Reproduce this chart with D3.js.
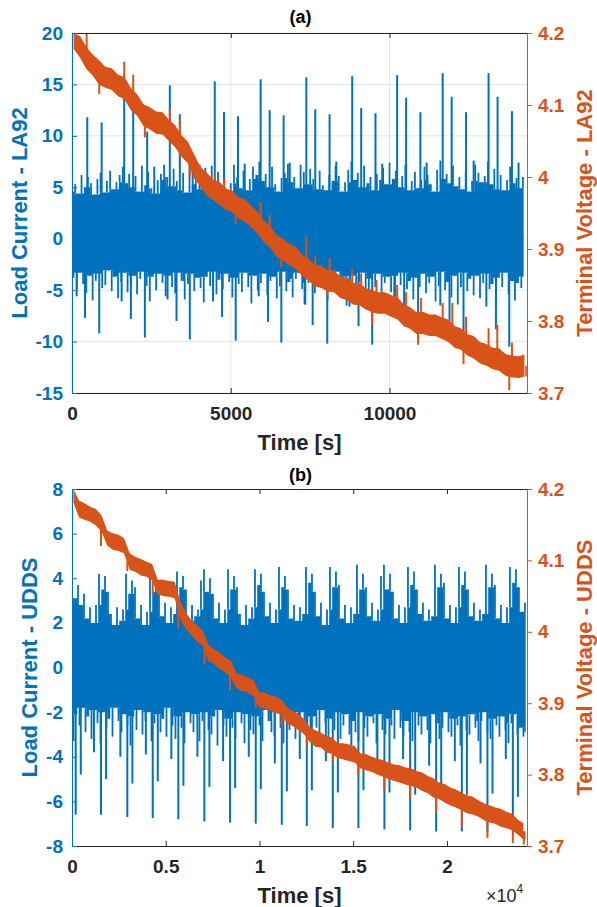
<!DOCTYPE html>
<html><head><meta charset="utf-8">
<script src="https://cdn.jsdelivr.net/npm/d3@7"></script>
<style>
body{margin:0;background:#fff}
svg text{font-family:"Liberation Sans",Arial,Helvetica,sans-serif}
</style>
</head><body>
<svg id="chart" width="597" height="907"></svg>
<script>
// ---------------- DATA ----------------
const la92TimeTicks = [0, 5000, 10000];
const la92TimeLabels = ["0", "5000", "10000"];
const la92CurrentTicks = [-15, -10, -5, 0, 5, 10, 15, 20];
const uddsTimeTicks = [0, 5000, 10000, 15000, 20000];
const uddsTimeLabels = ["0", "0.5", "1", "1.5", "2"];
const uddsCurrentTicks = [-8, -6, -4, -2, 0, 2, 4, 6, 8];
const voltageTicks = [3.7, 3.8, 3.9, 4.0, 4.1, 4.2];
const voltageLabels = ["3.7", "3.8", "3.9", "4", "4.1", "4.2"];

// LA92 load current: local maxima / minima per 100 s bin, isolated spikes
const la92CurrentStep = 100;
const la92CurrentHi = [
 4.6,5.3,4.4,6.2,5.0,6.0,5.4,4.3,5.8,6.4,
 4.5,5.6,6.6,4.8,5.5,6.2,7.0,5.4,6.3,5.0,
 6.1,4.6,7.1,5.2,6.5,4.9,4.4,5.7,6.3,7.2,
 6.0,5.1,6.8,5.6,4.7,6.4,4.5,7.3,5.3,6.0,
 4.8,5.5,6.9,6.0,7.1,5.6,6.5,5.0,5.9,4.6,
 5.4,7.2,6.0,4.9,6.6,4.7,5.8,7.0,6.2,7.5,
 5.6,6.3,5.0,7.0,5.3,4.6,5.9,6.4,7.3,5.5,
 6.0,4.9,7.2,6.5,5.3,6.8,5.8,4.8,6.6,5.2,
 4.7,6.2,5.6,7.1,6.1,4.6,5.5,6.7,7.5,5.7,
 6.4,5.0,7.1,5.4,6.0,4.7,6.3,5.7,6.9,5.3,
 7.4,5.8,6.6,5.0,6.1,7.2,4.7,5.6,6.5,4.9,
 5.7,7.0,6.2,5.3,4.6,6.7,7.6,5.8,6.3,5.4,
 7.1,5.1,6.0,4.8,6.6,4.6,5.6,7.2,6.4,5.5,
 6.1,7.5,5.3,6.8,4.8,6.2,4.7,5.7,7.0,5.4,
 5.9,4.9,6.0
];
const la92CurrentLo = [
 -3.8,-4.9,-3.3,-4.4,-5.3,-3.6,-6.0,-4.1,-3.4,-4.8,
 -4.5,-3.1,-5.1,-3.7,-5.8,-4.2,-3.3,-5.2,-4.6,-3.6,
 -5.4,-3.9,-3.2,-4.6,-6.1,-3.7,-5.0,-3.4,-4.3,-5.6,
 -3.6,-4.7,-5.3,-3.3,-4.1,-5.9,-4.4,-3.4,-5.1,-3.8,
 -4.8,-6.2,-3.7,-4.6,-3.2,-5.4,-4.0,-4.9,-3.4,-4.2,
 -5.7,-3.8,-4.4,-5.2,-3.3,-4.7,-6.3,-3.6,-5.0,-4.3,
 -3.4,-5.5,-4.1,-3.7,-5.8,-4.6,-3.2,-5.1,-4.2,-5.7,
 -3.9,-3.3,-4.9,-6.4,-4.3,-3.6,-5.3,-3.8,-3.4,-4.8,
 -6.0,-4.1,-4.6,-3.2,-5.2,-3.7,-6.5,-4.7,-3.6,-5.4,
 -4.2,-3.3,-5.0,-5.8,-3.9,-4.7,-3.4,-5.6,-4.3,-3.7,
 -5.2,-6.6,-3.6,-4.5,-3.3,-4.9,-4.1,-5.9,-3.8,-4.7,
 -3.4,-5.3,-4.3,-3.7,-6.1,-4.6,-3.2,-5.0,-4.2,-5.7,
 -3.6,-6.4,-4.7,-3.3,-5.1,-3.9,-5.5,-3.6,-5.8,-4.3,
 -3.4,-4.9,-4.4,-6.2,-3.8,-4.7,-3.3,-5.4,-4.1,-6.0,
 -4.3,-4.8,-3.7
];
const la92CurrentSpikes = [
 [481,11.8],[934,11.3],[1644,13.8],[1927,12.7],[2367,10.4],[2590,7.0],
 [3081,14.9],[3396,12.1],[3800,7.5],[4020,7.2],[4496,15.3],[4788,12.3],
 [5228,11.9],[5440,7.3],[5942,15.5],[6225,12.5],[6665,12.0],[6857,7.4],
 [7379,15.7],[7662,12.6],[8112,12.1],[8324,7.5],[8825,15.8],[9108,12.7],
 [9558,12.2],[9770,7.3],[10240,15.9],[10523,13.7],[10972,12.3],[11170,7.4],
 [11674,16.1],[11957,13.8],[12410,12.3],[12650,7.6],[13120,16.1],[13403,13.8],
 [13856,12.4],[14064,7.4],
 [148,-5.6],[409,-7.7],[858,-9.2],[1563,-6.1],[1855,-7.8],[2295,-9.6],
 [3009,-5.9],[3292,-8.0],[3710,-9.8],[4442,-6.1],[4726,-7.6],[5156,-9.9],
 [5879,-5.6],[6172,-8.1],[6593,-10.1],[7326,-6.4],[7580,-8.4],[8039,-10.2],
 [8740,-6.6],[9024,-8.5],[9454,-10.3],[10170,-6.5],[10460,-8.5],[10900,-9.6],
 [11600,-6.5],[11890,-8.6],[12330,-9.9],[13050,-6.6],[13352,-8.8],[13771,-10.5]
];

// LA92 terminal voltage: band max / min per 200 s bin
const la92VoltageStep = 200;
const la92VoltageHi = [
 4.200,4.196,4.181,4.170,4.162,4.153,4.151,4.142,4.139,4.124,
 4.115,4.101,4.097,4.091,4.090,4.080,4.072,4.058,4.049,4.031,
 4.014,4.006,3.996,3.993,3.984,3.981,3.972,3.969,3.960,3.951,
 3.939,3.932,3.919,3.914,3.907,3.903,3.892,3.886,3.878,3.877,
 3.871,3.870,3.862,3.860,3.853,3.852,3.846,3.843,3.840,3.840,
 3.836,3.833,3.823,3.819,3.812,3.813,3.809,3.809,3.805,3.802,
 3.793,3.790,3.782,3.779,3.771,3.768,3.763,3.762,3.754,3.752,
 3.751,3.753
];
const la92VoltageLo = [
 4.178,4.166,4.150,4.141,4.128,4.124,4.121,4.112,4.108,4.093,
 4.085,4.071,4.066,4.060,4.059,4.050,4.041,4.028,4.019,3.998,
 3.986,3.974,3.968,3.961,3.954,3.951,3.942,3.938,3.930,3.921,
 3.909,3.901,3.889,3.884,3.877,3.872,3.862,3.856,3.848,3.846,
 3.841,3.840,3.832,3.829,3.823,3.822,3.816,3.812,3.810,3.810,
 3.806,3.802,3.793,3.789,3.782,3.782,3.779,3.779,3.775,3.771,
 3.763,3.760,3.752,3.748,3.741,3.738,3.733,3.731,3.724,3.722,
 3.721,3.723
];
const la92VoltageSpikes = [
 [462,4.200],[1644,4.160],[1927,4.142],[3081,4.095],[3396,4.080],[4496,4.005],
 [4788,3.998],[5942,3.965],[6225,3.948],[7379,3.917],[7662,3.890],[8112,3.887],
 [8825,3.872],[9108,3.866],[9590,3.857],[10240,3.850],[10523,3.840],[10995,3.832],
 [11674,3.825],[11980,3.825],[12410,3.806],[13120,3.790],[13394,3.795],[13856,3.770],
 [858,4.115],[2295,4.055],[3710,4.000],[5156,3.935],[6593,3.875],[8039,3.835],
 [9454,3.795],[10900,3.767],[12330,3.740],[13771,3.704]
];

// UDDS load current: local maxima / minima per 160 s bin, isolated spikes
const uddsCurrentStep = 160;
const uddsCurrentHi = [
 4.1,3.1,3.7,2.8,3.3,2.2,2.7,2.0,2.8,4.2,
 3.5,4.1,3.4,2.4,1.9,2.7,2.1,2.6,4.2,3.3,
 3.9,3.6,2.2,2.8,1.9,2.5,4.3,3.4,4.0,3.7,
 2.3,2.9,2.0,2.7,2.4,4.3,3.6,4.1,3.5,2.1,
 2.8,2.3,2.6,3.9,4.4,3.4,4.0,3.3,2.2,2.9,
 2.0,2.6,4.4,3.5,4.1,3.6,2.4,1.9,2.8,2.2,
 2.7,4.4,3.7,4.2,3.4,2.3,2.9,2.0,2.6,4.5,
 3.6,4.1,3.5,2.2,2.8,2.1,2.7,2.4,4.5,3.8,
 4.2,3.4,2.3,2.9,1.9,2.6,4.5,3.6,4.3,3.7,
 2.2,2.8,2.0,2.7,2.4,4.6,3.5,4.2,3.6,2.3,
 2.9,2.1,2.6,4.1,4.6,3.5,4.2,3.4,2.2,2.8,
 2.0,2.7,4.5,3.7,4.3,3.5,2.4,2.9,2.1,2.6,
 2.3,4.6,3.6,4.2,3.8,2.2,2.8,2.0,2.7,4.5,
 3.7,4.3,3.5,2.3,2.9,2.1,2.6,2.4,4.6,3.6,
 4.2,3.7,2.2,2.8,2.0,2.7,4.5,3.8,4.4,3.6,
 2.5,2.9
];
const uddsCurrentLo = [
 -3.3,-2.1,-2.6,-1.8,-2.9,-2.2,-3.2,-1.9,-2.5,-3.4,
 -2.0,-2.7,-2.3,-3.1,-1.8,-2.4,-2.9,-2.1,-2.6,-3.5,
 -2.2,-2.8,-1.9,-3.0,-2.4,-2.0,-3.3,-2.5,-2.1,-2.9,
 -2.3,-3.1,-1.8,-2.6,-3.2,-2.2,-2.7,-3.4,-2.0,-2.5,
 -2.9,-2.1,-3.3,-2.4,-2.0,-2.8,-3.0,-2.2,-3.5,-1.9,
 -2.6,-3.1,-2.3,-2.7,-3.2,-2.0,-2.5,-3.4,-2.1,-2.8,
 -3.0,-2.2,-2.6,-3.3,-1.9,-2.4,-2.9,-3.1,-2.0,-2.7,
 -3.4,-2.3,-2.8,-2.1,-3.2,-2.5,-2.0,-3.0,-2.6,-3.3,
 -2.2,-2.7,-3.1,-1.9,-2.5,-3.5,-2.3,-2.8,-2.0,-3.2,
 -2.6,-2.1,-3.0,-2.4,-2.9,-3.3,-2.0,-2.7,-3.1,-2.2,
 -2.5,-3.4,-2.1,-2.8,-3.0,-2.3,-2.6,-3.2,-1.9,-2.7,
 -3.1,-2.4,-2.9,-3.3,-2.0,-2.6,-3.0,-2.2,-2.8,-3.4,
 -2.1,-2.5,-3.2,-2.7,-2.0,-2.9,-3.1,-2.3,-2.6,-3.5,
 -2.2,-2.8,-3.0,-2.1,-2.7,-3.3,-2.4,-2.0,-2.9,-3.2,
 -2.3,-2.6,-3.1,-2.2,-2.8,-3.4,-2.5,-2.1,-3.0,-2.7,
 -3.1,-2.9
];
const uddsCurrentSpikes = [
 [197,-6.6],[1547,-6.6],[2951,-6.7],[4306,-6.75],[5672,-6.8],[7060,-6.9],
 [8431,-6.95],[9802,-7.0],[11190,-7.05],[12524,-7.1],[13911,-7.2],[15277,-7.2],
 [16664,-7.25],[18036,-7.3],[19423,-7.35],[20794,-7.35],[22160,-7.4],[23515,-7.45],
 [467,-4.8],[1817,-5.0],[3221,-5.2],[4576,-5.1],[5942,-5.3],[7330,-5.35],
 [8701,-5.4],[10072,-5.45],[11460,-5.55],[12794,-5.5],[14181,-5.6],[15547,-5.5],
 [16934,-5.6],[18306,-5.7],[19693,-5.6],[21064,-5.7],[22430,-5.65],[23785,-5.8],
 [1170,-3.8],[2580,-4.0],[3940,-3.9],[5300,-4.1],[6690,-4.0],[8060,-4.2],
 [9430,-4.0],[10820,-4.3],[12150,-4.1],[13540,-4.2],[14900,-4.0],[16290,-4.3],
 [17660,-4.1],[19050,-4.4],[20420,-4.2],[21790,-4.3],[23140,-4.1]
];

// UDDS terminal voltage: band max / min per 300 s bin
const uddsVoltageStep = 300;
const uddsVoltageHi = [
 4.200,4.184,4.180,4.175,4.172,4.163,4.142,4.138,4.136,4.131,
 4.110,4.105,4.102,4.098,4.095,4.073,4.073,4.071,4.070,4.043,
 4.027,4.016,4.009,4.001,3.982,3.976,3.971,3.964,3.959,3.942,
 3.940,3.936,3.933,3.916,3.915,3.911,3.909,3.905,3.894,3.889,
 3.885,3.878,3.867,3.862,3.859,3.854,3.852,3.844,3.844,3.842,
 3.840,3.830,3.829,3.825,3.823,3.820,3.817,3.814,3.813,3.810,
 3.809,3.805,3.803,3.798,3.795,3.789,3.787,3.782,3.779,3.775,
 3.771,3.769,3.764,3.760,3.757,3.754,3.752,3.748,3.745,3.737,
 3.732
];
const uddsVoltageLo = [
 4.181,4.160,4.157,4.154,4.149,4.140,4.121,4.115,4.113,4.110,
 4.087,4.084,4.079,4.077,4.072,4.052,4.050,4.049,4.047,4.018,
 4.004,3.995,3.986,3.980,3.959,3.955,3.948,3.943,3.936,3.921,
 3.917,3.915,3.910,3.895,3.892,3.890,3.886,3.884,3.871,3.868,
 3.862,3.857,3.846,3.839,3.838,3.831,3.829,3.823,3.821,3.819,
 3.817,3.809,3.806,3.804,3.800,3.797,3.794,3.791,3.789,3.786,
 3.784,3.782,3.777,3.774,3.768,3.766,3.761,3.757,3.754,3.750,
 3.746,3.744,3.741,3.736,3.733,3.731,3.727,3.725,3.722,3.716,
 3.709
];
const uddsVoltageSpikes = [
 [1547,4.120],[2951,4.085],[4306,4.050],[5672,4.005],[7060,3.955],[8431,3.918],
 [9802,3.893],[11190,3.868],[12524,3.839],[13911,3.817],[15277,3.800],[16664,3.778],
 [18036,3.767],[19423,3.748],[20794,3.727],[22160,3.711],[23515,3.704],[24100,3.702]
];

// ---------------- DRAWING ----------------
const BLUE = "#0072BD", ORANGE = "#D95319", DARK = "#262626";
const svg = d3.select("#chart");
const FONT = '"Liberation Sans", Arial, sans-serif';

function columns(layer, x, y, cols, color, w) {
  layer.append("g").selectAll("line").data(cols).join("line")
    .attr("x1", d => x(d.t)).attr("x2", d => x(d.t))
    .attr("y1", d => y(d.from)).attr("y2", d => y(d.to))
    .attr("stroke", color).attr("stroke-width", w);
}

// current: solid core (running extremes of neighbouring bins) + column per extreme + spikes
function drawCurrent(layer, x, y, step, hi, lo, spikes, w) {
  const core = hi.map((h, i) => {
    const a = Math.max(0, i - 1), b = Math.min(hi.length, i + 2);
    return { t: i * step + step / 4, top: d3.min(hi.slice(a, b)), bot: d3.max(lo.slice(a, b)) };
  });
  layer.append("path").datum(core).attr("fill", BLUE)
    .attr("d", d3.area().curve(d3.curveStep).x(d => x(d.t)).y0(d => y(d.bot)).y1(d => y(d.top)));
  const cols = [];
  hi.forEach((h, i) => {
    cols.push({ t: i * step, from: core[i].top, to: h });
    cols.push({ t: i * step + step / 2, from: core[i].bot, to: lo[i] });
  });
  columns(layer, x, y, cols, BLUE, w);
  columns(layer, x, y, spikes.map(s => ({ t: s[0], from: 0, to: s[1] })), BLUE, 2);
}

// voltage: band between bin max and min + spikes
function drawVoltage(layer, x, y, step, hi, lo, spikes) {
  const pts = hi.map((h, i) => ({ t: i * step + step / 4, hi: h, lo: lo[i] }));
  layer.append("path").datum(pts).attr("fill", ORANGE)
    .attr("d", d3.area().x(d => x(d.t)).y0(d => y(d.lo)).y1(d => y(d.hi)));
  const cols = [];
  hi.forEach((h, i) => {
    const m = (h + lo[i]) / 2;
    cols.push({ t: i * step, from: m, to: h });
    cols.push({ t: i * step + step / 2, from: m, to: lo[i] });
  });
  columns(layer, x, y, cols, ORANGE, 1.6);
  columns(layer, x, y, spikes.map(s => {
    const i = Math.max(0, Math.min(hi.length - 1, Math.round((s[0] - step / 4) / step)));
    return { t: s[0], from: (hi[i] + lo[i]) / 2, to: s[1] };
  }), ORANGE, 2);
}

function panel(o) {
  const L = 72, R = 527;
  const g = svg.append("g");
  const x = d3.scaleLinear().domain([0, o.xMax]).range([L, R]);
  const yL = d3.scaleLinear().domain(o.yLDomain).range([o.bottom, o.top]);
  const yR = d3.scaleLinear().domain([3.7, 4.2]).range([o.bottom, o.top]);

  const clipId = "clip" + o.id;
  svg.append("clipPath").attr("id", clipId).append("rect")
    .attr("x", L).attr("y", o.top).attr("width", R - L).attr("height", o.bottom - o.top);

  if (o.grid) {
    const gg = g.append("g");
    gg.selectAll("line.h").data(o.yLTicks).join("line")
      .attr("x1", L).attr("x2", R).attr("y1", d => yL(d)).attr("y2", d => yL(d))
      .attr("stroke", "#dbe9f4").attr("stroke-width", 1);
    gg.selectAll("line.v").data(o.xTicks).join("line")
      .attr("y1", o.top).attr("y2", o.bottom).attr("x1", d => x(d)).attr("x2", d => x(d))
      .attr("stroke", "#e2e2e2").attr("stroke-width", 1);
  }

  const plot = g.append("g").attr("clip-path", `url(#${clipId})`);
  drawCurrent(plot.append("g"), x, yL, o.cStep, o.cHi, o.cLo, o.cSpikes, o.colW);
  drawVoltage(plot.append("g"), x, yR, o.vStep, o.vHi, o.vLo, o.vSpikes);

  // axes
  const ax = g.append("g").attr("transform", `translate(0,${o.bottom})`)
    .call(d3.axisBottom(x).tickValues(o.xTicks).tickFormat((d, i) => o.xLabels[i])
      .tickSizeInner(-5).tickSizeOuter(0).tickPadding(14));
  ax.select(".domain").attr("stroke", DARK);
  ax.selectAll(".tick line").attr("stroke", DARK);
  ax.selectAll("text").attr("fill", DARK).attr("font-size", 19).attr("font-weight", "bold")
    .attr("font-family", FONT);

  const at = g.append("g").attr("transform", `translate(0,${o.top})`)
    .call(d3.axisTop(x).tickValues(o.xTicks).tickFormat("").tickSizeInner(-5).tickSizeOuter(0));
  at.select(".domain").attr("stroke", DARK);
  at.selectAll(".tick line").attr("stroke", DARK);

  const al = g.append("g").attr("transform", `translate(${L},0)`)
    .call(d3.axisLeft(yL).tickValues(o.yLTicks).tickFormat(d => String(d))
      .tickSizeInner(-5).tickSizeOuter(0).tickPadding(9));
  al.select(".domain").attr("stroke", BLUE);
  al.selectAll(".tick line").attr("stroke", BLUE);
  al.selectAll("text").attr("fill", BLUE).attr("font-size", 19).attr("font-weight", "bold")
    .attr("font-family", FONT);

  const ar = g.append("g").attr("transform", `translate(${R},0)`)
    .call(d3.axisRight(yR).tickValues(voltageTicks).tickFormat((d, i) => voltageLabels[i])
      .tickSizeInner(5).tickSizeOuter(0).tickPadding(6));
  ar.select(".domain").attr("stroke", ORANGE);
  ar.selectAll(".tick line").attr("stroke", ORANGE);
  ar.selectAll("text").attr("fill", ORANGE).attr("font-size", 19).attr("font-weight", "bold")
    .attr("font-family", FONT);

  // labels
  const mid = (o.top + o.bottom) / 2;
  g.append("text").attr("transform", `translate(${o.leftLabelX},${mid}) rotate(-90)`)
    .attr("text-anchor", "middle").attr("font-size", 22).attr("font-weight", "bold")
    .attr("fill", BLUE).text(o.leftLabel);
  g.append("text").attr("transform", `translate(592,${mid}) rotate(-90)`)
    .attr("text-anchor", "middle").attr("font-size", 22).attr("font-weight", "bold")
    .attr("fill", ORANGE).text(o.rightLabel);
  g.append("text").attr("x", (L + R) / 2).attr("y", o.bottom + 57)
    .attr("text-anchor", "middle").attr("font-size", 22).attr("font-weight", "bold")
    .attr("fill", DARK).text("Time [s]");
  g.append("text").attr("x", (L + R) / 2 + 1).attr("y", o.titleY)
    .attr("text-anchor", "middle").attr("font-size", 18).attr("font-weight", "bold")
    .attr("fill", "#000").text(o.title);
}

panel({
  id: "a", top: 33, bottom: 393, xMax: 14330,
  yLDomain: [-15, 20], yLTicks: la92CurrentTicks,
  xTicks: la92TimeTicks, xLabels: la92TimeLabels, grid: true,
  cStep: la92CurrentStep, cHi: la92CurrentHi, cLo: la92CurrentLo,
  cSpikes: la92CurrentSpikes, colW: 1.8,
  vStep: la92VoltageStep, vHi: la92VoltageHi, vLo: la92VoltageLo, vSpikes: la92VoltageSpikes,
  leftLabel: "Load Current - LA92", rightLabel: "Terminal Voltage - LA92",
  leftLabelX: 27, title: "(a)", titleY: 23
});

panel({
  id: "b", top: 489, bottom: 846, xMax: 24270,
  yLDomain: [-8, 8], yLTicks: uddsCurrentTicks,
  xTicks: uddsTimeTicks, xLabels: uddsTimeLabels, grid: false,
  cStep: uddsCurrentStep, cHi: uddsCurrentHi, cLo: uddsCurrentLo,
  cSpikes: uddsCurrentSpikes, colW: 1.8,
  vStep: uddsVoltageStep, vHi: uddsVoltageHi, vLo: uddsVoltageLo, vSpikes: uddsVoltageSpikes,
  leftLabel: "Load Current - UDDS", rightLabel: "Terminal Voltage - UDDS",
  leftLabelX: 37, title: "(b)", titleY: 481
});

// exponent label
const ex = svg.append("text").attr("x", 486).attr("y", 902)
  .attr("font-size", 18).attr("fill", DARK).attr("font-family", FONT);
ex.append("tspan").text("×");
ex.append("tspan").text("10");
ex.append("tspan").attr("font-size", 12).attr("dy", -9).text("4");
</script>
</body></html>
